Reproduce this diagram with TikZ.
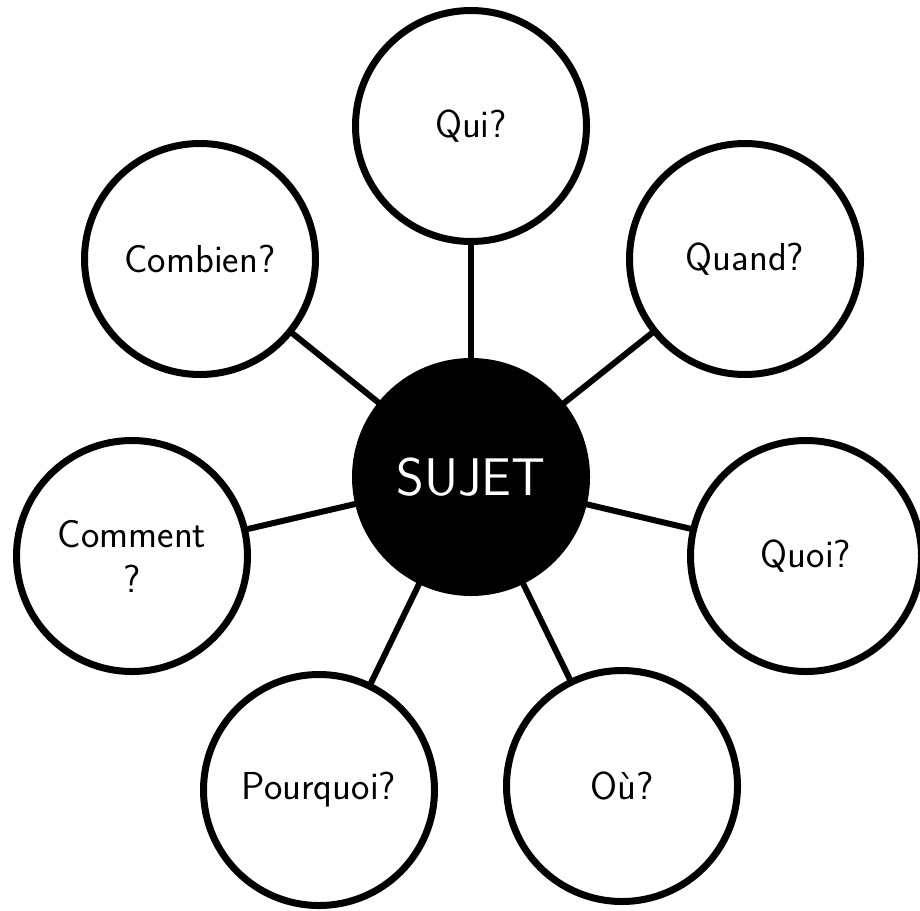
\documentclass[tikz,border=0pt]{standalone}
\usepackage{fontspec}
\begin{document}
\begin{tikzpicture}[x=0.5pt,y=-0.5pt, line join=round, line cap=round,
	question/.style={circle, draw, line width=3.5pt, minimum size=115.5pt, inner sep=0pt, align=center,
		font=\sffamily\fontsize{19.5}{22.5}\selectfont},
	topic/.style={question, fill=black, text=white, font=\sffamily\fontsize{26.5}{30}\selectfont},
	spoke/.style={line width=3pt}]
			\useasboundingbox (0,0) rectangle (920,910);
			\clip (0,0) rectangle (920,910);
			% centre
			\node[topic] (sujet) at (471,477) {SUJET};
			% questions
			\node[question] (qui) at (471,126) {Qui?};
			\node[question] (quand) at (745,259) {Quand?};
			\node[question] (quoi) at (806,556) {Quoi?};
			\node[question] (ou) at (622,786) {Où?};
			\node[question] (pourquoi) at (319,790) {Pourquoi?};
			\node[question] (comment) at (132,556) {Comment\\?};
			\node[question] (combien) at (200,259) {Combien?};
			\foreach \q in {qui,quand,quoi,ou,pourquoi,comment,combien}
			{\draw[spoke] (sujet)--(\q);}
	\end{tikzpicture}
\end{document}
